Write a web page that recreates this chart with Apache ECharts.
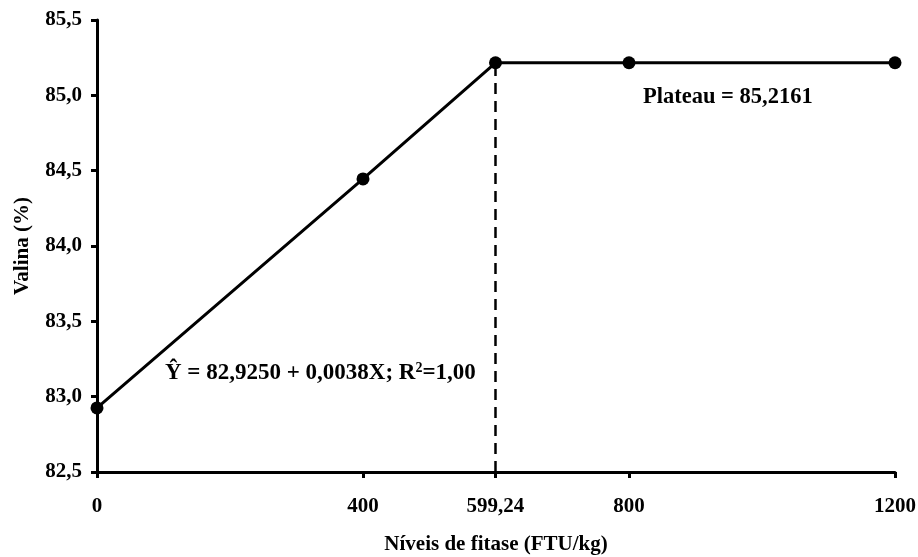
<!DOCTYPE html>
<html>
<head>
<meta charset="utf-8">
<script src="https://cdn.jsdelivr.net/npm/echarts@6/dist/echarts.min.js"></script>
<style>
  html, body { margin: 0; padding: 0; background: #fff; }
  #chart { width: 918px; height: 557px; }
</style>
</head>
<body>
<div id="chart"></div>
<script>
  // níveis de fitase e valina observada / ajustada
  const doses = [0, 400, 599.24, 800, 1200]
  const valina = [82.925, 84.445, 85.2161, 85.2161, 85.2161]
  const xTicks = [0, 400, 599.24, 800, 1200]
  const breakX = 599.24
  const plateau = 85.2161
  const yMin = 82.5

  const fmt = v => String(v).replace('.', ',')
  const font = { fontFamily: 'Liberation Serif', fontWeight: 'bold', fontSize: 21, color: '#000' }

  const chart = echarts.init(document.getElementById('chart'))

  chart.setOption({
    animation: false,
    textStyle: { fontFamily: 'Liberation Serif' },
    grid: { left: 97, right: 23, top: 20, bottom: 85, outerBoundsMode: 'none', containLabel: false },
    xAxis: {
      type: 'value',
      min: 0,
      max: 1200,
      name: 'Níveis de fitase (FTU/kg)',
      nameLocation: 'middle',
      nameGap: 62,
      nameTextStyle: font,
      splitLine: { show: false },
      axisLine: { lineStyle: { color: '#000', width: 3 } },
      axisTick: { customValues: xTicks, length: 6, lineStyle: { color: '#000', width: 3 } },
      axisLabel: { customValues: xTicks, formatter: v => fmt(v), margin: 24, ...font }
    },
    yAxis: {
      type: 'value',
      min: 82.5,
      max: 85.5,
      interval: 0.5,
      name: 'Valina (%)',
      nameLocation: 'middle',
      nameGap: 64,
      nameTextStyle: font,
      splitLine: { show: false },
      axisLine: { show: true, lineStyle: { color: '#000', width: 3 } },
      axisTick: { show: true, length: 6, lineStyle: { color: '#000', width: 3 } },
      axisLabel: { formatter: v => v.toFixed(1).replace('.', ','), margin: 15, ...font }
    },
    series: [
      {
        type: 'line',
        data: [[breakX, yMin], [breakX, plateau]],
        showSymbol: false,
        lineStyle: { color: '#000', width: 2.5, type: [11, 7] },
        z: 1
      },
      {
        type: 'line',
        data: doses.map((d, i) => [d, valina[i]]),
        symbol: 'circle',
        symbolSize: 13,
        itemStyle: { color: '#000' },
        lineStyle: { color: '#000', width: 3 },
        clip: false,
        z: 3
      }
    ],
    graphic: [
      {
        type: 'text',
        left: 165,
        top: 361,
        style: {
          text: '{t|Ŷ = 82,9250 + 0,0038X; R}{s|2}{t|=1,00}',
          rich: {
            t: { ...font, fontSize: 23 },
            s: { ...font, fontSize: 14, verticalAlign: 'top', padding: [0, 0, 10, 0] }
          }
        }
      },
      {
        type: 'text',
        left: 643,
        top: 86,
        style: { text: 'Plateau = 85,2161', ...font, fill: '#000', fontSize: 22.5 }
      }
    ]
  })
</script>
</body>
</html>
